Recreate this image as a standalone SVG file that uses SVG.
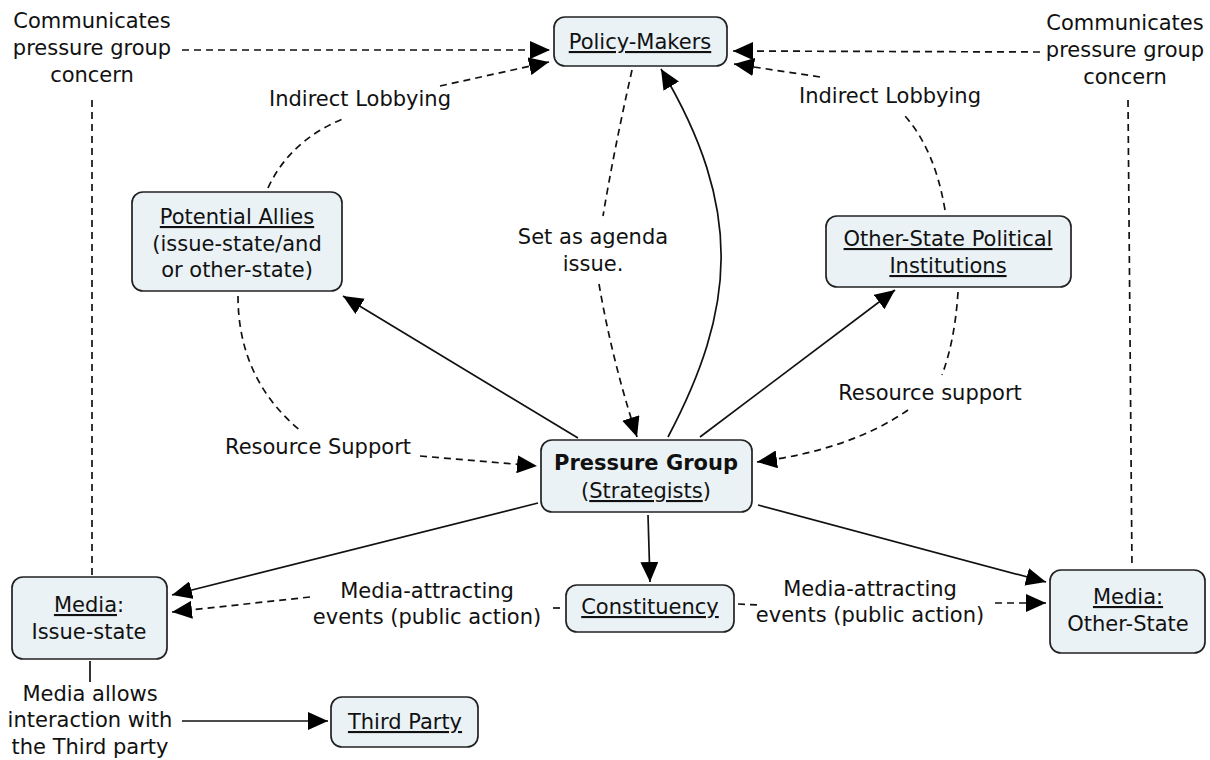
<svg xmlns="http://www.w3.org/2000/svg" width="1210" height="760" viewBox="0 0 1210 760">
<style>
text{font-family:"DejaVu Sans","Liberation Sans",sans-serif;font-size:21px;fill:#111;text-anchor:middle}
.n{fill:#eaf2f6;stroke:#222;stroke-width:1.7}
.u{text-decoration:underline}
.b{font-weight:bold}
.c{fill:none;stroke:#111;stroke-width:1.7}
.d{stroke-dasharray:7 5}
</style>
<defs>
<marker id="ah" viewBox="0 0 20 18" refX="20" refY="9" markerWidth="20" markerHeight="18" markerUnits="userSpaceOnUse" orient="auto">
<path d="M0,0 L20,9 L0,18 z" fill="#000"/>
</marker>
</defs>
<g id="connectors">
<path class="c d" d="M182,50 L550,50" marker-end="url(#ah)"/>
<path class="c d" d="M92,100 L92,575"/>
<path class="c d" d="M1040,52 L733,51" marker-end="url(#ah)"/>
<path class="c d" d="M1128,100 L1132,568"/>
<path class="c d" d="M268,188 Q290,140 345,118"/>
<path class="c d" d="M440,86 L549,62" marker-end="url(#ah)"/>
<path class="c d" d="M945,210 Q935,150 905,116"/>
<path class="c d" d="M820,77 L734,64" marker-end="url(#ah)"/>
<path class="c d" d="M632,70 Q614,150 603,216"/>
<path class="c d" d="M599,284 Q612,360 637,437" marker-end="url(#ah)"/>
<path class="c" d="M668,437 C735,310 745,210 661,69" marker-end="url(#ah)"/>
<path class="c" d="M578,438 L343,296" marker-end="url(#ah)"/>
<path class="c" d="M700,437 L895,290" marker-end="url(#ah)"/>
<path class="c d" d="M238,296 Q238,380 302,432"/>
<path class="c d" d="M420,456 L537,466" marker-end="url(#ah)"/>
<path class="c d" d="M958,292 Q955,340 942,375"/>
<path class="c d" d="M908,410 Q850,450 757,462" marker-end="url(#ah)"/>
<path class="c" d="M538,503 L172,595" marker-end="url(#ah)"/>
<path class="c" d="M648,515 L650,582" marker-end="url(#ah)"/>
<path class="c" d="M758,505 L1046,582" marker-end="url(#ah)"/>
<path class="c d" d="M310,597 L172,612" marker-end="url(#ah)"/>
<path class="c d" d="M553,608 L560,608"/>
<path class="c d" d="M738,604 L760,605"/>
<path class="c d" d="M995,603 L1046,603" marker-end="url(#ah)"/>
<path class="c" d="M90,661 L90,682"/>
<path class="c" d="M182,721 L328,721" marker-end="url(#ah)"/>
</g>
<g id="labels">
<text x="92" y="28">Communicates</text>
<text x="92" y="55">pressure group</text>
<text x="92" y="82">concern</text>
<text x="1125" y="30">Communicates</text>
<text x="1125" y="57">pressure group</text>
<text x="1125" y="84">concern</text>
<text x="360" y="106">Indirect Lobbying</text>
<text x="890" y="103">Indirect Lobbying</text>
<text x="593" y="244">Set as agenda</text>
<text x="593" y="271">issue.</text>
<text x="318" y="454">Resource Support</text>
<text x="930" y="400">Resource support</text>
<text x="427" y="598">Media-attracting</text>
<text x="427" y="624">events (public action)</text>
<text x="870" y="596">Media-attracting</text>
<text x="870" y="622">events (public action)</text>
<text x="90" y="701">Media allows</text>
<text x="90" y="727">interaction with</text>
<text x="90" y="754">the Third party</text>
</g>
<g id="policy-makers">
<rect class="n" x="554" y="17" width="173" height="49" rx="11"/>
<text class="u" x="640" y="49">Policy-Makers</text>
</g>
<g id="potential-allies">
<rect class="n" x="132" y="192" width="210" height="99" rx="11"/>
<text class="u" x="237" y="224">Potential Allies </text>
<text x="237" y="251">(issue-state/and</text>
<text x="237" y="277">or other-state)</text>
</g>
<g id="other-state-political">
<rect class="n" x="826" y="216" width="245" height="71" rx="11"/>
<text class="u" x="948" y="246">Other-State Political</text>
<text class="u" x="948" y="273">Institutions</text>
</g>
<g id="pressure-group">
<rect class="n" x="541" y="440" width="211" height="72" rx="11"/>
<text class="b" x="646" y="470">Pressure Group</text>
<text x="646" y="498">(<tspan class="u">Strategists</tspan>)</text>
</g>
<g id="media-issue-state">
<rect class="n" x="12" y="577" width="155" height="82" rx="11"/>
<text x="89" y="612"><tspan class="u">Media</tspan>:</text>
<text x="89" y="639">Issue-state</text>
</g>
<g id="constituency">
<rect class="n" x="566" y="585" width="168" height="47" rx="11"/>
<text class="u" x="650" y="614">Constituency</text>
</g>
<g id="media-other-state">
<rect class="n" x="1050" y="570" width="155" height="83" rx="11"/>
<text class="u" x="1128" y="604">Media:</text>
<text x="1128" y="631">Other-State</text>
</g>
<g id="third-party">
<rect class="n" x="331" y="697" width="147" height="50" rx="11"/>
<text class="u" x="405" y="729">Third Party</text>
</g>
</svg>
